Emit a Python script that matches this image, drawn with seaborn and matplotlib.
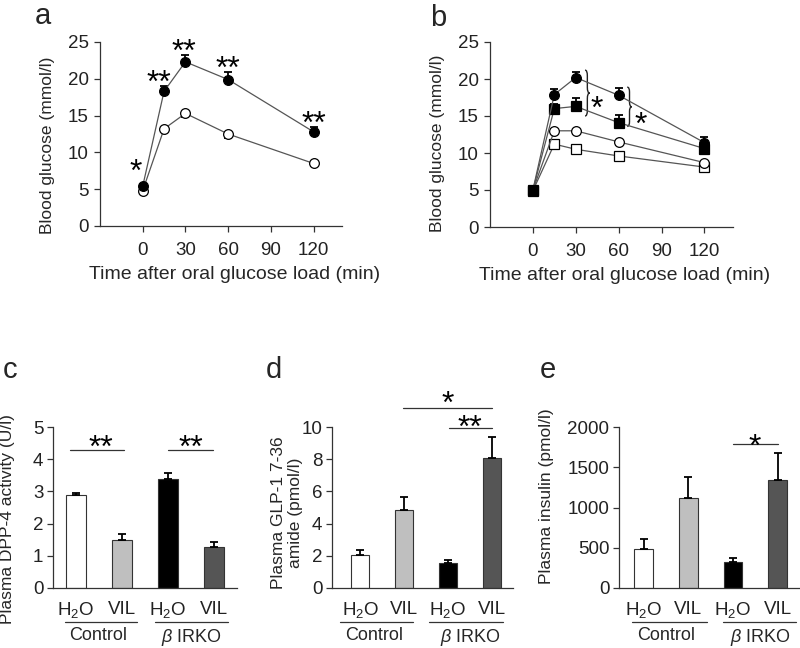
import numpy as np
import pandas as pd
import matplotlib
matplotlib.use("Agg")
import matplotlib.pyplot as plt
import matplotlib.transforms as mtransforms
from matplotlib.path import Path
from matplotlib.patches import PathPatch
import seaborn as sns

# ---------------- data ----------------
time_min = [0, 15, 30, 60, 120]
time_ticks = [0, 30, 60, 90, 120]

# panel a
a_irko = [5.4, 18.3, 22.3, 19.9, 12.8]
a_irko_err = [0.3, 0.7, 0.9, 1.0, 0.6]
a_ctrl = [4.8, 13.2, 15.3, 12.5, 8.5]
a_ctrl_err = [0.3, 0.3, 0.5, 0.5, 0.4]

# panel b
b_irko_h2o = [5.0, 17.9, 20.2, 17.8, 11.4]
b_irko_h2o_err = [0.3, 0.7, 0.8, 1.0, 0.7]
b_irko_vil = [5.0, 16.0, 16.3, 14.1, 10.6]
b_irko_vil_err = [0.3, 0.6, 1.1, 1.1, 0.6]
b_ctrl_h2o = [5.0, 13.0, 13.0, 11.5, 8.7]
b_ctrl_h2o_err = [0.3, 0.3, 0.4, 0.4, 0.5]
b_ctrl_vil = [4.9, 11.2, 10.5, 9.6, 8.1]
b_ctrl_vil_err = [0.3, 0.5, 0.6, 0.4, 0.5]

# bar panels
bar_groups = ["Control H2O", "Control VIL", "bIRKO H2O", "bIRKO VIL"]
bar_ticklabels = ["H$_2$O", "VIL", "H$_2$O", "VIL"]
group_labels = ["Control", r"$\mathit{\beta}$ IRKO"]

c_dpp4 = [2.88, 1.50, 3.37, 1.27]
c_dpp4_err = [0.08, 0.18, 0.20, 0.15]
d_glp1 = [2.05, 4.83, 1.55, 8.07]
d_glp1_err = [0.29, 0.85, 0.20, 1.31]
e_insulin = [480, 1118, 323, 1340]
e_insulin_err = [125, 262, 45, 335]

bar_colors = ["#ffffff", "#bfbfbf", "#000000", "#555555"]

# ---------------- style ----------------
sns.set_theme(style="ticks")
plt.rcParams["font.family"] = ["Liberation Sans", "DejaVu Sans"]
plt.rcParams["mathtext.fontset"] = "custom"
plt.rcParams["mathtext.rm"] = "Liberation Sans"
plt.rcParams["mathtext.it"] = "Liberation Sans:italic"
plt.rcParams["mathtext.default"] = "regular"
plt.rcParams["axes.edgecolor"] = "#333333"
plt.rcParams["axes.linewidth"] = 0.9
plt.rcParams["xtick.color"] = "#333333"
plt.rcParams["ytick.color"] = "#333333"
plt.rcParams["xtick.labelcolor"] = "#222222"
plt.rcParams["ytick.labelcolor"] = "#222222"

TICK_FS = 13.5
LABEL_FS = 12.5
STAR_FS = 23

W, H = 800, 648
fig = plt.figure(figsize=(W / 100, H / 100), dpi=100)


def px_axes(left, top, right, bottom):
    return fig.add_axes([left / W, 1 - bottom / H, (right - left) / W, (bottom - top) / H])


def stars(ax, x, y, s, fs=STAR_FS):
    ax.annotate(s, xy=(x, y), xytext=(0, -0.58 * fs), textcoords="offset points",
                ha="center", va="baseline", fontsize=fs, color="black",
                annotation_clip=False)


def series(ax, y, err, marker, filled):
    fc = "black" if filled else "white"
    sns.lineplot(x=time_min, y=y, ax=ax, color="#555555", linewidth=0.9,
                 marker=marker, markersize=7, markerfacecolor=fc,
                 markeredgecolor="black", markeredgewidth=0.9, zorder=4)
    zeros = np.zeros(len(err))
    yerr = [zeros, err] if filled else [err, zeros]
    ax.errorbar(time_min, y, yerr=yerr, fmt="none", ecolor="black",
                elinewidth=1.3, capsize=2.8, capthick=1.3, zorder=3)


def style_line_axes(ax, xl_x, yl_x, yl_y):
    ax.set_xlim(-30, 140)
    ax.set_ylim(0, 25)
    ax.set_xticks(time_ticks)
    ax.set_yticks(range(0, 26, 5))
    ax.tick_params(axis="both", labelsize=TICK_FS, length=4, width=0.9)
    ax.tick_params(axis="x", pad=7.5)
    ax.tick_params(axis="y", pad=4)
    sns.despine(ax=ax)
    ax.set_xlabel("Time after oral glucose load (min)", fontsize=14)
    ax.xaxis.set_label_coords(xl_x, -0.215)
    ax.set_ylabel("Blood glucose (mmol/l)", fontsize=LABEL_FS)
    ax.yaxis.set_label_coords(yl_x, yl_y)


def brace(ax, x, y0, y1, w):
    ym = (y0 + y1) / 2
    d = (y1 - y0) * 0.12
    xm = x + w / 2
    verts = [(x, y1), (xm, y1), (xm, y1 - d), (xm, ym + d), (xm, ym), (x + w, ym),
             (xm, ym), (xm, ym - d), (xm, y0 + d), (xm, y0), (x, y0)]
    codes = [Path.MOVETO, Path.CURVE3, Path.CURVE3, Path.LINETO, Path.CURVE3, Path.CURVE3,
             Path.CURVE3, Path.CURVE3, Path.LINETO, Path.CURVE3, Path.CURVE3]
    ax.add_patch(PathPatch(Path(verts, codes), fill=False, edgecolor="#222222", lw=1.0))


# ---------------- panel a ----------------
ax_a = px_axes(100, 42, 342, 226)
series(ax_a, a_ctrl, a_ctrl_err, "o", False)
series(ax_a, a_irko, a_irko_err, "o", True)
style_line_axes(ax_a, 0.554, -0.186, 0.44)
stars(ax_a, -5, 8.6, "*")
stars(ax_a, 11.5, 20.8, "**")
stars(ax_a, 28.8, 25.0, "**")
stars(ax_a, 60, 22.7, "**")
stars(ax_a, 120.5, 15.1, "**")

# ---------------- panel b ----------------
ax_b = px_axes(490, 42, 733, 227)
series(ax_b, b_ctrl_vil, b_ctrl_vil_err, "s", False)
series(ax_b, b_ctrl_h2o, b_ctrl_h2o_err, "o", False)
series(ax_b, b_irko_vil, b_irko_vil_err, "s", True)
series(ax_b, b_irko_h2o, b_irko_h2o_err, "o", True)
style_line_axes(ax_b, 0.554, -0.185, 0.45)
brace(ax_b, 36.5, 15.0, 21.2, 3.2)
brace(ax_b, 66.0, 13.6, 18.9, 3.2)
stars(ax_b, 45, 17.2, "*")
stars(ax_b, 75.5, 15.1, "*")


# ---------------- bar panels ----------------
def bar_panel(ax, vals, errs, ylim, yticks, xlim, ylabel, yl_x, yl_y,
              ul_ranges, gl_x):
    df = pd.DataFrame({"group": bar_groups, "value": vals})
    sns.barplot(data=df, x="group", y="value", hue="group", order=bar_groups,
                hue_order=bar_groups, palette=bar_colors, legend=False,
                width=0.42, edgecolor="#333333", linewidth=0.8, errorbar=None, ax=ax)
    ax.errorbar(range(len(vals)), vals, yerr=[np.zeros(len(errs)), errs], fmt="none",
                ecolor="black", elinewidth=1.3, capsize=2.8, capthick=1.3, zorder=3)
    ax.set_xlim(*xlim)
    ax.set_ylim(*ylim)
    ax.set_yticks(yticks)
    ax.set_xticks(range(4))
    ax.set_xticklabels(bar_ticklabels)
    ax.tick_params(axis="x", length=0, pad=9, labelsize=TICK_FS)
    ax.tick_params(axis="y", length=4, width=0.9, pad=3, labelsize=TICK_FS)
    ax.set_xlabel("")
    ax.set_ylabel(ylabel, fontsize=LABEL_FS, multialignment="center")
    ax.yaxis.set_label_coords(yl_x, yl_y)
    sns.despine(ax=ax)
    trans = mtransforms.blended_transform_factory(ax.transData, ax.transAxes)
    for (x0, x1), gx, lab in zip(ul_ranges, gl_x, group_labels):
        ax.plot([x0, x1], [-0.212, -0.212], transform=trans, color="#333333",
                lw=0.9, clip_on=False)
        ax.text(gx, -0.245, lab, transform=trans, ha="center", va="top", fontsize=13)


def sig(ax, x0, x1, y, sx, sy, s, fs=STAR_FS):
    ax.plot([x0, x1], [y, y], color="#333333", lw=0.9, clip_on=False)
    stars(ax, sx, sy, s, fs)


ax_c = px_axes(53, 427, 237, 588)
bar_panel(ax_c, c_dpp4, c_dpp4_err, (0, 5), range(0, 6), (-0.5, 3.5),
          "Plasma DPP-4 activity (U/l)", -0.207, 0.43,
          [(-0.25, 1.32), (1.72, 3.3)], [0.48, 2.5])
sig(ax_c, -0.13, 1.04, 4.29, 0.55, 4.66, "**")
sig(ax_c, 2.0, 2.98, 4.29, 2.5, 4.66, "**")

ax_d = px_axes(332, 427, 513, 588)
bar_panel(ax_d, d_glp1, d_glp1_err, (0, 10), range(0, 11, 2), (-0.64, 3.48),
          "Plasma GLP-1 7-36\namide (pmol/l)", -0.16, 0.47,
          [(-0.45, 1.2), (1.57, 3.25)], [0.32, 2.5])
sig(ax_d, 0.98, 3.0, 11.2, 2.0, 12.0, "*")
sig(ax_d, 2.02, 3.0, 9.94, 2.5, 10.56, "**")

ax_e = px_axes(619, 427, 800, 588)
bar_panel(ax_e, e_insulin, e_insulin_err, (0, 2000), range(0, 2001, 500), (-0.55, 3.5),
          "Plasma insulin (pmol/l)", -0.36, 0.57,
          [(-0.25, 1.41), (1.77, 3.42)], [0.51, 2.62])
sig(ax_e, 1.99, 3.0, 1790, 2.48, 1876, "*")

# ---------------- panel letters ----------------
for lab, x, y in [("a", 35, 24), ("b", 430, 26), ("c", 3, 378), ("d", 266, 378), ("e", 540, 378)]:
    fig.text(x / W, 1 - y / H, lab, ha="left", va="baseline", fontsize=21)

fig.savefig("out.png", dpi=100)
